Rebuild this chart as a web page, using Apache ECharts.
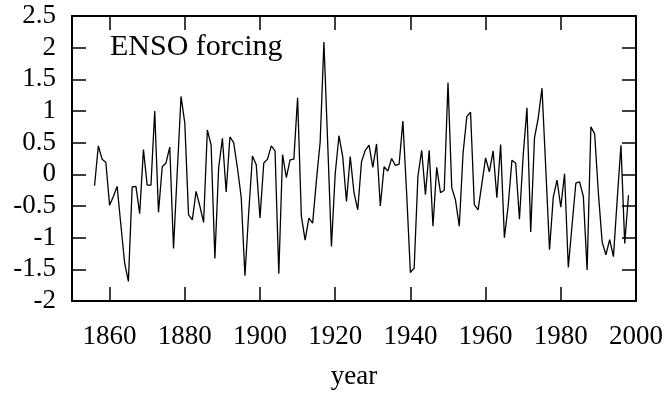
<!DOCTYPE html>
<html>
<head>
<meta charset="utf-8">
<script src="https://cdn.jsdelivr.net/npm/echarts@6/dist/echarts.min.js"></script>
<style>
  html, body { margin: 0; padding: 0; background: #fff; }
  #chart { width: 669px; height: 395px; }
</style>
</head>
<body>
<div id="chart"></div>
<script>
// ENSO forcing, one value per year from 1856
const firstYear = 1856;
const enso = [
  -0.18, 0.45, 0.24, 0.19, -0.49, -0.35, -0.19, -0.8, -1.40, -1.69,   // 1856-1865
  -0.2, -0.19, -0.62, 0.39, -0.17, -0.17, 1.0, -0.6, 0.12, 0.18,      // 1866-1875
  0.43, -1.17, 0.05, 1.23, 0.81, -0.64, -0.72, -0.27, -0.5, -0.76,    // 1876-1885
  0.70, 0.46, -1.33, 0.1, 0.57, -0.28, 0.59, 0.5, 0.1, -0.36,         // 1886-1895
  -1.6, -0.6, 0.29, 0.15, -0.69, 0.18, 0.24, 0.45, 0.37, -1.57,       // 1896-1905
  0.31, -0.05, 0.23, 0.24, 1.21, -0.66, -1.04, -0.69, -0.77, -0.1,    // 1906-1915
  0.51, 2.09, 0.5, -1.14, 0.01, 0.61, 0.28, -0.43, 0.28, -0.29,       // 1916-1925
  -0.56, 0.2, 0.38, 0.46, 0.11, 0.48, -0.5, 0.12, 0.05, 0.25,         // 1926-1935
  0.14, 0.16, 0.84, -0.3, -1.55, -1.48, -0.03, 0.38, -0.32, 0.38,     // 1936-1945
  -0.82, 0.11, -0.29, -0.25, 1.45, -0.21, -0.41, -0.82, 0.33, 0.91,   // 1946-1955
  0.98, -0.48, -0.56, -0.15, 0.26, 0.04, 0.37, -0.37, 0.47, -1.0,     // 1956-1965
  -0.5, 0.22, 0.18, -0.71, 0.3, 1.05, -0.91, 0.57, 0.89, 1.36,        // 1966-1975
  0.1, -1.19, -0.36, -0.09, -0.52, 0.01, -1.47, -0.8, -0.14, -0.12,   // 1976-1985
  -0.35, -1.51, 0.75, 0.64, -0.3, -1.07, -1.27, -1.03, -1.3, -0.4,    // 1986-1995
  0.46, -1.09, -0.33                                                  // 1996-1998
];
const xTicks = [1860, 1880, 1900, 1920, 1940, 1960, 1980, 2000];
const yMin = -2, yMax = 2.5, yStep = 0.5;

const font = "'Liberation Serif', 'DejaVu Serif', serif";

let chart = echarts.init(document.getElementById('chart'), null, { renderer: 'canvas' });

// bottom / top x axis, the top one only draws the frame and ticks
let xAxisBase = function(pos, showLabel) {
  return {
    type: 'value',
    position: pos,
    min: 1850,
    max: 2000,
    splitLine: { show: false },
    axisLine: { show: true, onZero: false, lineStyle: { color: '#000', width: 2 } },
    axisTick: { show: true, inside: true, length: 14, customValues: xTicks, lineStyle: { color: '#000', width: 1.5 } },
    axisLabel: {
      show: showLabel, customValues: xTicks, margin: 22,
      color: '#000', fontFamily: font, fontSize: 27,
      formatter: function(v) { return String(v); }
    }
  };
};
// left / right y axis
let yAxisBase = function(pos, showLabel) {
  return {
    type: 'value',
    position: pos,
    min: yMin,
    max: yMax,
    interval: yStep,
    splitLine: { show: false },
    axisLine: { show: true, onZero: false, lineStyle: { color: '#000', width: 2 } },
    axisTick: { show: true, inside: true, length: 14, lineStyle: { color: '#000', width: 1.5 } },
    axisLabel: {
      show: showLabel, margin: 16,
      color: '#000', fontFamily: font, fontSize: 27,
      formatter: function(v) { return String(v); }
    }
  };
};

let xa = xAxisBase('bottom', true);
xa.name = 'year';
xa.nameLocation = 'middle';
xa.nameGap = 62;
xa.nameTextStyle = { color: '#000', fontFamily: font, fontSize: 27 };

chart.setOption({
  animation: false,
  backgroundColor: '#fff',
  title: {
    text: 'ENSO forcing',
    left: 110,
    top: 32,
    padding: 0,
    textStyle: { color: '#000', fontFamily: font, fontSize: 30, fontWeight: 'normal' }
  },
  grid: { left: 72, right: 33, top: 16, bottom: 84 },
  xAxis: [xa, xAxisBase('top', false)],
  yAxis: [yAxisBase('left', true), yAxisBase('right', false)],
  series: [{
    type: 'line',
    data: enso.map((v, i) => [firstYear + i, v]),
    showSymbol: false,
    lineStyle: { color: '#000', width: 1.3 },
    silent: true
  }]
});
</script>
</body>
</html>
